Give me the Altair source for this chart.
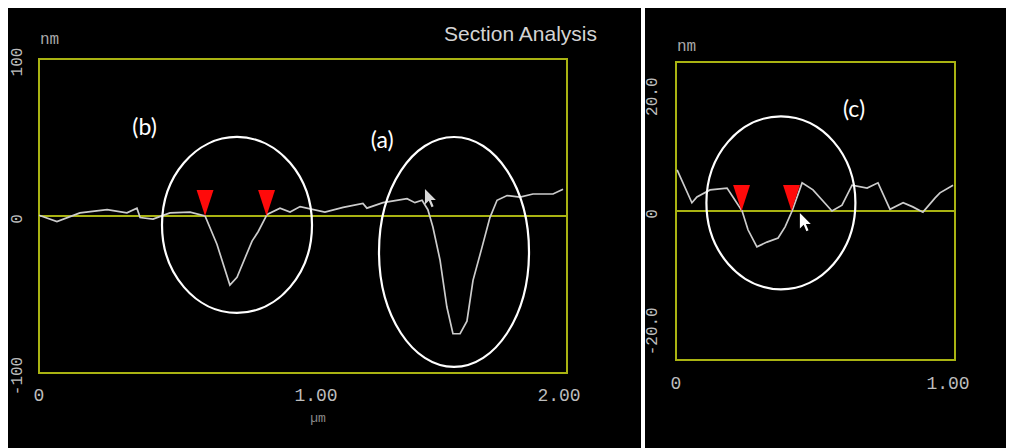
import altair as alt
import pandas as pd

# ---------------- data ----------------
left_x_um = [0.000, 0.068, 0.155, 0.258, 0.333, 0.371, 0.383, 0.432, 0.496, 0.572,
             0.629, 0.674, 0.723, 0.750, 0.807, 0.830, 0.864, 0.913, 0.951, 0.989,
             1.083, 1.152, 1.227, 1.242, 1.303, 1.394, 1.424, 1.451, 1.473, 1.492,
             1.519, 1.545, 1.568, 1.595, 1.621, 1.644, 1.678, 1.708, 1.735, 1.773,
             1.822, 1.871, 1.947, 1.985]
left_z_nm = [0.5, -3.5, 2, 4, 2, 5, -1, -2, 2, 2.5,
             0, -18, -44, -39, -16, -10, 1, 5, 2.5, 6,
             2.5, 5.5, 8, 5, 8.5, 11, 8.5, 10, 4, -7,
             -28, -58, -75, -75, -67, -41, -20, -1, 10, 13,
             12, 14, 14, 17]

right_x_um = [0.004, 0.057, 0.075, 0.122, 0.183, 0.204, 0.237, 0.258, 0.290, 0.326,
              0.366, 0.391, 0.416, 0.452, 0.491, 0.559, 0.595, 0.631, 0.685, 0.724,
              0.767, 0.814, 0.849, 0.885, 0.928, 0.946, 0.993]
right_z_nm = [7.0, 1.4, 2.4, 3.6, 3.9, 2.4, 0.0, -3.2, -6.1, -5.3,
              -4.6, -2.7, 0.0, 4.8, 3.6, 0.0, 1.0, 4.4, 3.9, 4.8,
              0.3, 1.4, 0.7, -0.2, 2.2, 3.1, 4.4]

left_x_domain = [0, 2]
left_z_domain = [-100, 100]
right_x_domain = [0, 1]
right_z_domain = [-25.4, 25.4]

left_x_ticks = [0, 1, 2]
left_x_labels = ["0", "1.00", "2.00"]
left_z_ticks = [100, 0, -100]
left_z_labels = ["100", "0", "-100"]
right_x_ticks = [0, 1]
right_x_labels = ["0", "1.00"]
right_z_ticks = [20, 0, -20]
right_z_labels = ["20.0", "0", "-20.0"]

left_marker_x = [0.629, 0.862]
right_marker_x = [0.235, 0.414]

left_ellipse_x = [0.75, 1.572]      # (b), (a)
left_ellipse_z = [-5.7, -22.9]
right_ellipse_x = [0.376]           # (c)
right_ellipse_z = [1.4]

left_note_text = ["(b)", "(a)"]
left_note_x = [0.40, 1.30]
left_note_z = [56, 48]
right_note_text = ["(c)"]
right_note_x = [0.638]
right_note_z = [17.2]

left_cursor_x = [1.462]
left_cursor_z = [17.2]
right_cursor_x = [0.444]
right_cursor_z = [-0.34]

# ---------------- styles ----------------
YELLOW = "#a9b312"
LINE = "#cccccc"
LABEL = "#bdbdbd"
MONO = "Liberation Mono"
TRI = "M -0.65 -2 L 0.65 -2 L 0 0 Z"
CURSOR = "M 0 0 L 0 1.7 L 0.42 1.3 L 0.72 2.0 L 0.95 1.9 L 0.66 1.22 L 1.2 1.22 Z"


def ellipse_path(ratio):
    return f"M -1 0 A 1 {ratio} 0 1 0 1 0 A 1 {ratio} 0 1 0 -1 0 Z"


def make_panel(lx, lz, xdom, zdom, xrng, zrng,
               xt, xl, xl_dx, xl_dy, zt, zl, zl_dy,
               mk_x, ell_x, ell_z, ell_shapes, ell_sizes,
               nt, nx, nz, cx, cz, cur_color, unit_dy, extras):
    xs = alt.Scale(domain=xdom, range=xrng, nice=False, zero=False)
    ys = alt.Scale(domain=zdom, range=zrng, nice=False, zero=False)

    def X(f):
        return alt.X(f, type="quantitative", scale=xs, axis=None)

    def Y(f):
        return alt.Y(f, type="quantitative", scale=ys, axis=None)

    frame_df = pd.DataFrame({"x0": [xdom[0]], "x1": [xdom[1]],
                             "z0": [zdom[0]], "z1": [zdom[1]], "zero": [0]})
    line_df = pd.DataFrame({"x": lx, "z": lz})

    layers = []
    layers.append(alt.Chart(frame_df).mark_rect(fillOpacity=0, stroke=YELLOW, strokeWidth=2)
                  .encode(x=X("x0"), x2="x1", y=Y("z0"), y2="z1"))
    layers.append(alt.Chart(frame_df).mark_rule(color=YELLOW, strokeWidth=2)
                  .encode(x=X("x0"), x2="x1", y=Y("zero")))
    layers.append(alt.Chart(line_df).mark_line(color=LINE, strokeWidth=1.7)
                  .encode(x=X("x"), y=Y("z")))
    layers.append(alt.Chart(pd.DataFrame({"x": mk_x, "z": [0] * len(mk_x)}))
                  .mark_point(shape=TRI, size=676, filled=True, color="#ff0a0a", opacity=1)
                  .encode(x=X("x"), y=Y("z")))
    for ex, ez, es, sz in zip(ell_x, ell_z, ell_shapes, ell_sizes):
        layers.append(alt.Chart(pd.DataFrame({"x": [ex], "z": [ez]}))
                      .mark_point(shape=es, size=sz, filled=False, stroke="white",
                                  strokeWidth=2.2, opacity=1)
                      .encode(x=X("x"), y=Y("z")))
    layers.append(alt.Chart(pd.DataFrame({"x": cx, "z": cz}))
                  .mark_point(shape=CURSOR, size=330, filled=True, color=cur_color, opacity=1)
                  .encode(x=X("x"), y=Y("z")))
    layers.append(alt.Chart(pd.DataFrame({"x": nx, "z": nz, "t": nt}))
                  .mark_text(font="Lato", fontSize=23, color="white")
                  .encode(x=X("x"), y=Y("z"), text="t:N"))
    # y tick labels (rotated)
    layers.append(alt.Chart(pd.DataFrame({"x": [xdom[0]] * len(zt), "z": zt, "t": zl}))
                  .mark_text(angle=270, font=MONO, fontSize=16, color=LABEL,
                             align="center", baseline="middle", dy=zl_dy, dx=-3)
                  .encode(x=X("x"), y=Y("z"), text="t:N"))
    # x tick labels
    for v, lab, ddx in zip(xt, xl, xl_dx):
        layers.append(alt.Chart(pd.DataFrame({"x": [v], "z": [zdom[0]], "t": [lab]}))
                      .mark_text(font=MONO, fontSize=18, color=LABEL, align="center",
                                 baseline="middle", dx=ddx, dy=xl_dy)
                      .encode(x=X("x"), y=Y("z"), text="t:N"))
    # unit "nm"
    layers.append(alt.Chart(pd.DataFrame({"x": [xdom[0]], "z": [zdom[1]], "t": ["nm"]}))
                  .mark_text(font=MONO, fontSize=16, color="#a8a8a8", align="left",
                             baseline="middle", dx=1, dy=unit_dy)
                  .encode(x=X("x"), y=Y("z"), text="t:N"))
    for ex in extras:
        layers.append(alt.Chart(pd.DataFrame({"x": [ex["x"]], "z": [ex["z"]], "t": [ex["t"]]}))
                      .mark_text(**ex["style"])
                      .encode(x=X("x"), y=Y("z"), text="t:N"))
    return alt.layer(*layers)


left = make_panel(
    left_x_um, left_z_nm, left_x_domain, left_z_domain, [31, 559], [365, 51],
    left_x_ticks, left_x_labels, [0, 13, -8], 23, left_z_ticks, left_z_labels, -22,
    left_marker_x, left_ellipse_x, left_ellipse_z,
    [ellipse_path(1.173), ellipse_path(1.533)], [22500, 22500],
    left_note_text, left_note_x, left_note_z, left_cursor_x, left_cursor_z, "#d8d8d8", -20,
    [
        {"x": left_x_domain[1], "z": left_z_domain[1], "t": "Section Analysis",
         "style": dict(font="Liberation Sans", fontSize=21, color="#d4d4d4", align="right",
                       baseline="middle", dx=30, dy=-24)},
        {"x": 1, "z": left_z_domain[0], "t": "µm",
         "style": dict(font=MONO, fontSize=13, color="#8a8a8a", align="center",
                       baseline="middle", dx=15, dy=45)},
    ],
)

right = make_panel(
    right_x_um, right_z_nm, right_x_domain, right_z_domain, [668, 947], [352, 54],
    right_x_ticks, right_x_labels, [0, -7], 24, right_z_ticks, right_z_labels, -24,
    right_marker_x, right_ellipse_x, right_ellipse_z,
    [ellipse_path(1.161)], [22201],
    right_note_text, right_note_x, right_note_z, right_cursor_x, right_cursor_z, "#ffffff", -16,
    [],
)

divider = alt.Chart(pd.DataFrame({"d": [0]})).mark_rule(color="white", strokeWidth=4).encode(
    x=alt.value(635), y=alt.value(0), y2=alt.value(440)
)

chart = (
    alt.layer(left, right, divider)
    .resolve_scale(x="independent", y="independent")
    .properties(width=998, height=440, background="black", padding=0,
                autosize=alt.AutoSizeParams(type="none"))
    .configure_view(stroke=None)
)

chart.save("out.html", embed_options={"renderer": "svg", "actions": False})
